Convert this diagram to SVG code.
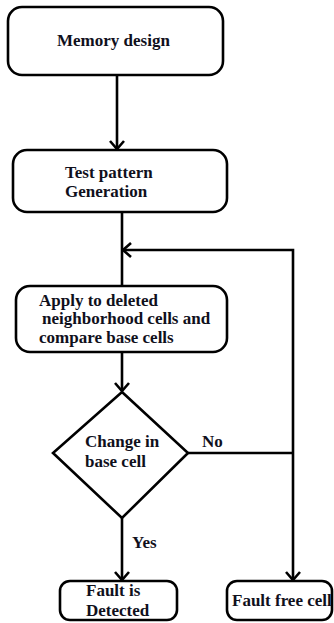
<svg xmlns="http://www.w3.org/2000/svg" width="334" height="623" viewBox="0 0 334 623">
<style>
.box{fill:#fff;stroke:#000;stroke-width:2.6}
.ln{fill:none;stroke:#000;stroke-width:2.6}
text{font-family:"Liberation Serif","Times New Roman",serif;font-weight:bold;font-size:17px;fill:#10101c}
</style>
<defs>
<marker id="ah" markerUnits="userSpaceOnUse" markerWidth="20" markerHeight="20" viewBox="-10 -10 20 20" refX="0" refY="0" orient="auto">
<path d="M-8,-7 L0,0 L-8,7" fill="none" stroke="#000" stroke-width="2.6"/>
</marker>
</defs>
<rect width="334" height="623" fill="#fff"/>
<g id="connectors">
<path class="ln" d="M117,75 V149" marker-end="url(#ah)"/>
<path class="ln" d="M122,212 V286"/>
<path class="ln" d="M122,352 V391" marker-end="url(#ah)"/>
<path class="ln" d="M188,453 H293"/>
<path class="ln" d="M293,453 V250 H123" marker-end="url(#ah)"/>
<path class="ln" d="M293,453 V580" marker-end="url(#ah)"/>
<path class="ln" d="M122,518 V580" marker-end="url(#ah)"/>
</g>
<g id="memory-design">
<rect class="box" x="8" y="7" width="215" height="68" rx="14"/>
<text x="57" y="46">Memory design</text>
</g>
<g id="test-pattern">
<rect class="box" x="13" y="150" width="214" height="62" rx="14"/>
<text x="65" y="178">Test pattern</text>
<text x="65" y="197">Generation</text>
</g>
<g id="apply">
<rect class="box" x="16" y="286" width="211" height="66" rx="14"/>
<text x="39" y="306">Apply to deleted</text>
<text x="42" y="324">neighborhood cells and</text>
<text x="39" y="343">compare base cells</text>
</g>
<g id="decision">
<polygon class="box" points="122,392 188,453 122,518 53,453"/>
<text x="85" y="447">Change in</text>
<text x="85" y="467">base cell</text>
</g>
<g id="labels">
<text x="202" y="447">No</text>
<text x="132" y="548">Yes</text>
</g>
<g id="fault-detected">
<rect class="box" x="60" y="581" width="117" height="39" rx="10"/>
<text x="86" y="596">Fault is</text>
<text x="86" y="616">Detected</text>
</g>
<g id="fault-free">
<rect class="box" x="227" y="581" width="105" height="39" rx="10"/>
<text x="232" y="606">Fault free cell</text>
</g>
</svg>
